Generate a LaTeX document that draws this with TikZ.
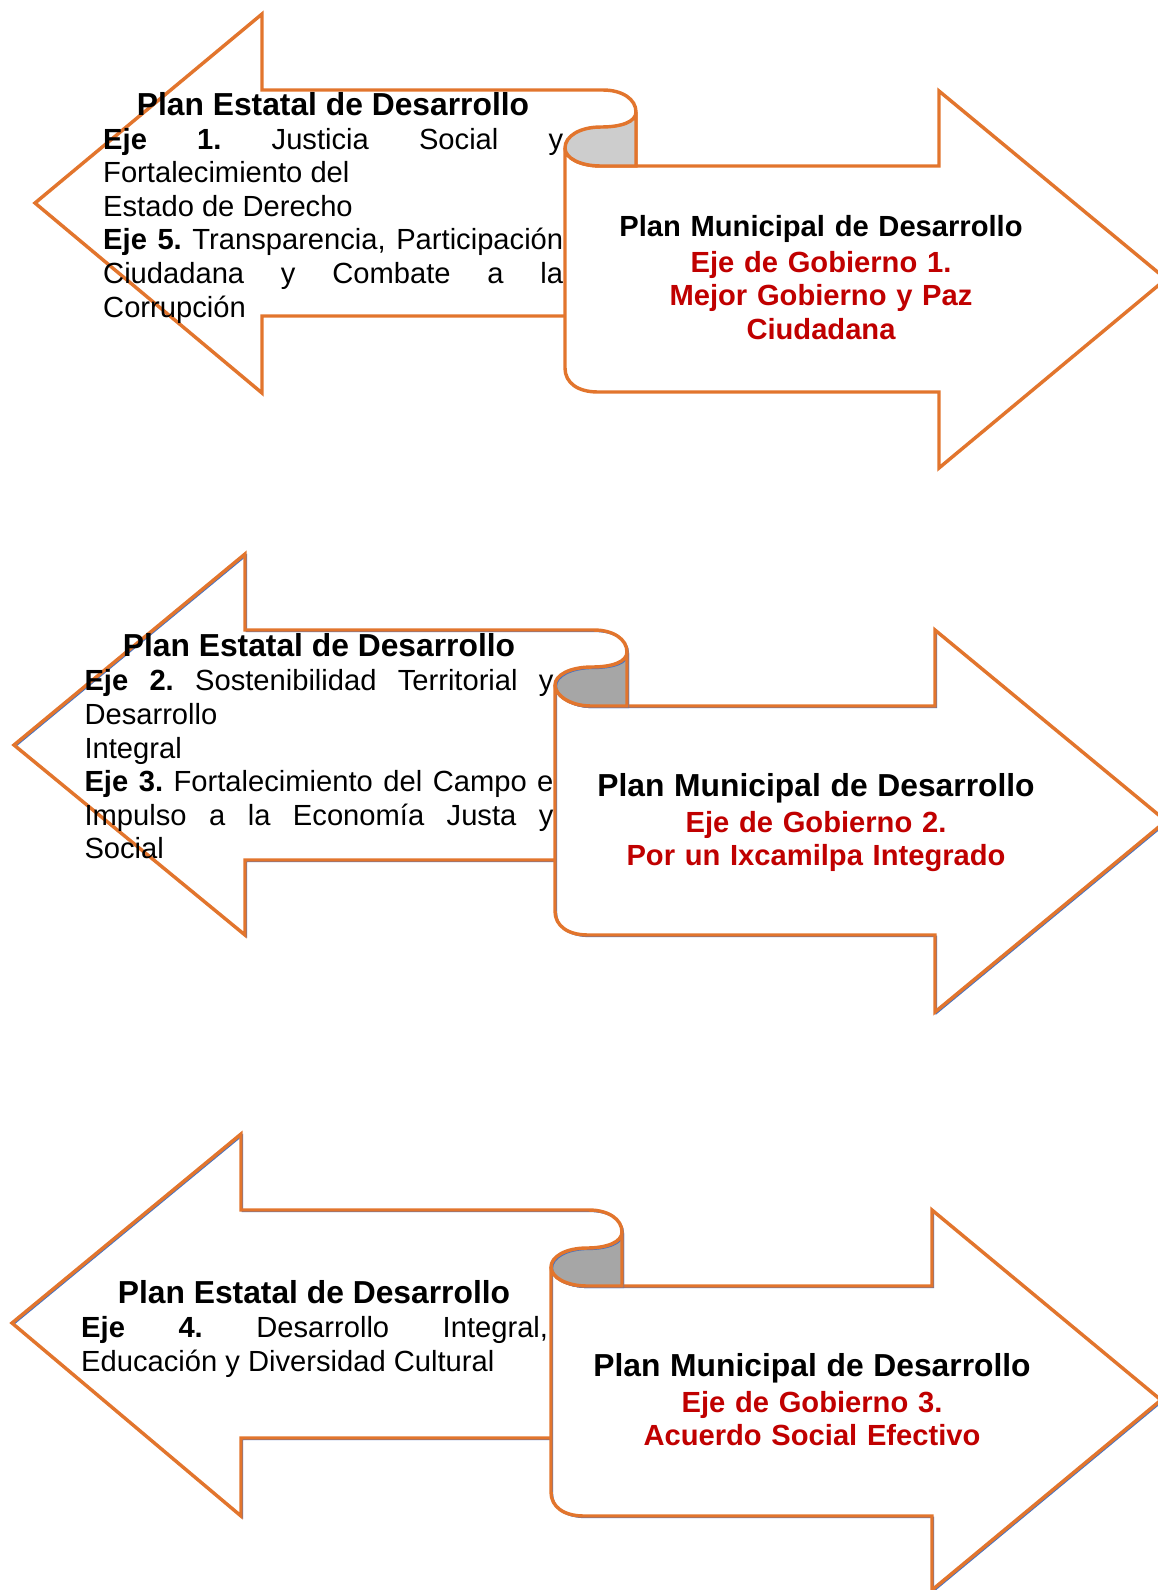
\documentclass[tikz,border=0pt]{standalone}
\usepackage{fontspec}
\setmainfont{Liberation Sans}
\tolerance=10000
\hbadness=10000
\frenchspacing

\begin{document}
\begin{tikzpicture}[x=0.3774pt, y=-0.3774pt,
    orangeline/.style={draw=edgeorange, line width=1.3pt},
    blueline/.style={postaction={draw=edgeblue, line width=0.6pt, transform canvas={shift={(0.5pt,-0.5pt)}}},
                     postaction={draw=edgeorange, line width=1.3pt}},
    statehead/.style={anchor=base, inner sep=0pt, font=\fontsize{12}{13}\selectfont\bfseries},
    statebody/.style={anchor=base west, align=justify, inner sep=0pt, font=\fontsize{11}{12.7}\selectfont},
    munitext/.style={anchor=base, align=center, text width=200pt, inner sep=0pt, font=\fontsize{11}{12.65}\selectfont\bfseries}]
    % Define colors
    \definecolor{edgeorange}{RGB}{226, 117, 45}
    \definecolor{edgeblue}{RGB}{68, 114, 196}
    \definecolor{curllight}{RGB}{205, 205, 205}
    \definecolor{curldark}{RGB}{166, 166, 166}
    \definecolor{textred}{RGB}{192, 0, 0}

    \useasboundingbox (0,0) rectangle (1158,1590);
    \clip (0,0) rectangle (1158,1590);

    % Eje 1 y 5 (top)
    \filldraw[fill=white, orangeline] (603,90) -- (262,90) -- (262,14) -- (35,203) -- (262,393) -- (262,316) -- (636,316) -- (636,112) .. controls (636,99) and (622,90) .. (603,90) -- cycle;
    \filldraw[fill=white, orangeline] (565,148) .. controls (565,158) and (580,166) .. (601,166) -- (939,166) -- (939,91) -- (1166,279) -- (939,468) -- (939,392) -- (598,392) .. controls (578,392) and (565,383) .. (565,368) -- cycle;
    \filldraw[fill=curllight, orangeline] (636,112) .. controls (636,122) and (621,127) .. (601,127) .. controls (580,127) and (565,136) .. (565,148) .. controls (565,158) and (580,166) .. (601,166) -- (636,166) -- cycle;
    \node[statehead] (head1) at (333,115) {Plan Estatal de Desarrollo};
    \node[statebody, text width=173.6pt] (body1) at (102.7,149) {\textbf{Eje 1.} Justicia Social y\linebreak Fortalecimiento del\\ Estado de Derecho\\ \textbf{Eje 5.} Transparencia, Participación\linebreak Ciudadana y Combate a la\linebreak Corrupción};
    \node[munitext] (muni1) at (821,236) {Plan Municipal de Desarrollo\\[1pt] {\color{textred}Eje de Gobierno 1.\\ Mejor Gobierno y Paz\\ Ciudadana}};

    % Eje 2 y 3 (middle)
    \path[fill=white, blueline] (594,630) -- (245,630) -- (245,554) -- (14,745) -- (245,935) -- (245,860) -- (627,860) -- (627,652) .. controls (627,639) and (613,630) .. (594,630) -- cycle;
    \path[fill=white, blueline] (555,685) .. controls (555,695) and (570,706) .. (591,706) -- (935,706) -- (935,630) -- (1166,821) -- (935,1012) -- (935,935) -- (588,935) .. controls (568,935) and (555,926) .. (555,911) -- cycle;
    \path[fill=curldark, blueline] (627,652) .. controls (627,662) and (612,667) .. (592,667) .. controls (570,667) and (555,675) .. (555,685) .. controls (555,695) and (570,706) .. (591,706) -- (627,706) -- cycle;
    \node[statehead] (head2) at (319,656) {Plan Estatal de Desarrollo};
    \node[statebody, text width=177pt] (body2) at (84,690.7) {\textbf{Eje 2.} Sostenibilidad Territorial y\linebreak Desarrollo\\ Integral\\ \textbf{Eje 3.} Fortalecimiento del Campo e\linebreak Impulso a la Economía Justa y\linebreak Social};
    \node[munitext] (muni2) at (816,796) {{\fontsize{12}{12.65}\selectfont Plan Municipal de Desarrollo}\\[1pt] {\color{textred}Eje de Gobierno 2.\\ Por un Ixcamilpa Integrado}};

    % Eje 4 (bottom)
    \path[fill=white, blueline] (589,1210) -- (241,1210) -- (241,1134) -- (12,1323) -- (241,1516) -- (241,1438) -- (622,1438) -- (622,1232) .. controls (622,1219) and (608,1210) .. (589,1210) -- cycle;
    \path[fill=white, blueline] (551,1267) .. controls (551,1277) and (566,1286) .. (587,1286) -- (932,1286) -- (932,1210) -- (1161,1400) -- (932,1590) -- (932,1516) -- (584,1516) .. controls (564,1516) and (551,1507) .. (551,1492) -- cycle;
    \path[fill=curldark, blueline] (622,1232) .. controls (622,1242) and (607,1248) .. (587,1248) .. controls (565,1248) and (551,1257) .. (551,1267) .. controls (551,1277) and (566,1286) .. (587,1286) -- (622,1286) -- cycle;
    \node[statehead] (head3) at (314,1303) {Plan Estatal de Desarrollo};
    \node[statebody, text width=176.2pt] (body3) at (80.7,1337.7) {\textbf{Eje 4.} Desarrollo Integral,\linebreak Educación y Diversidad Cultural};
    \node[munitext] (muni3) at (812,1376) {{\fontsize{12}{12.65}\selectfont Plan Municipal de Desarrollo}\\[1pt] {\color{textred}Eje de Gobierno 3.\\ Acuerdo Social Efectivo}};
\end{tikzpicture}
\end{document}
